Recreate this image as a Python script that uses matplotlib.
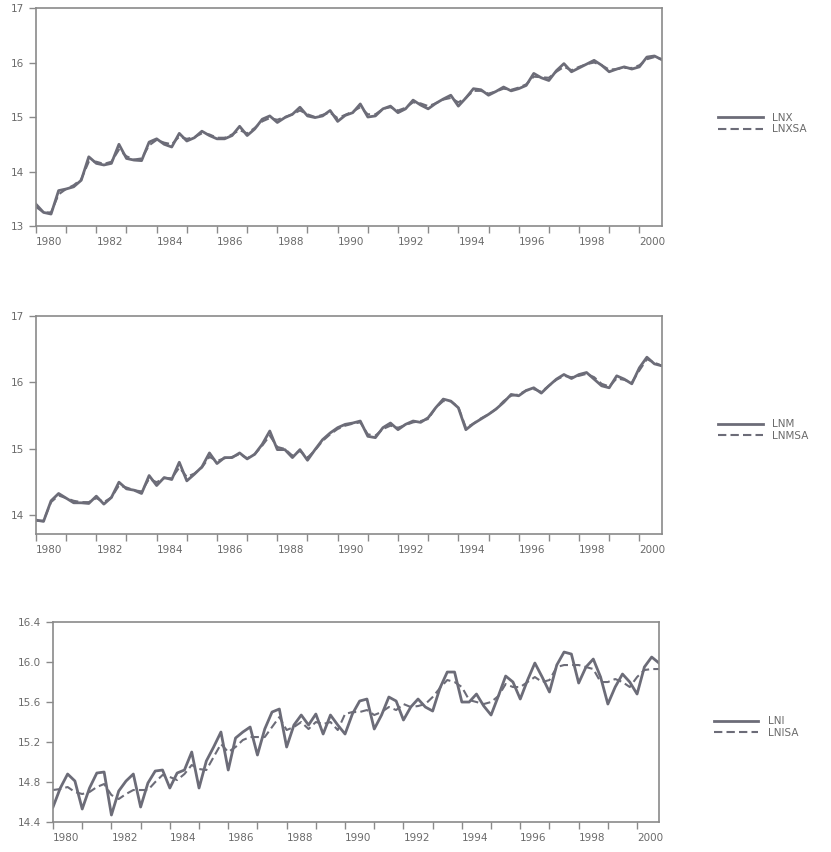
import numpy as np
import matplotlib
matplotlib.use("Agg")
from matplotlib import pyplot as plt
from matplotlib.ticker import FixedLocator, FormatStrFormatter

# quarterly observations 1980Q1 .. 2000Q4
quarters = 1980 + np.arange(84) / 4.0
years = np.arange(1980, 2001)

lnx = [13.40, 13.25, 13.22, 13.65, 13.68, 13.72, 13.84, 14.27, 14.15, 14.12,
       14.15, 14.50, 14.24, 14.21, 14.20, 14.54, 14.60, 14.50, 14.45, 14.70,
       14.56, 14.62, 14.74, 14.66, 14.60, 14.60, 14.66, 14.83, 14.66, 14.78,
       14.96, 15.02, 14.90, 14.99, 15.05, 15.18, 15.02, 14.99, 15.02, 15.12,
       14.92, 15.03, 15.08, 15.24, 15.00, 15.02, 15.15, 15.20, 15.08, 15.15,
       15.31, 15.22, 15.15, 15.25, 15.33, 15.40, 15.20, 15.35, 15.52, 15.50,
       15.40, 15.47, 15.55, 15.48, 15.52, 15.58, 15.80, 15.72, 15.67, 15.85,
       15.98, 15.83, 15.90, 15.97, 16.04, 15.95, 15.83, 15.88, 15.92, 15.88,
       15.92, 16.10, 16.12, 16.05]
lnxsa = [13.35, 13.25, 13.25, 13.58, 13.68, 13.75, 13.86, 14.18, 14.18, 14.14,
         14.18, 14.40, 14.28, 14.22, 14.24, 14.48, 14.58, 14.53, 14.50, 14.64,
         14.60, 14.63, 14.70, 14.68, 14.62, 14.62, 14.68, 14.76, 14.70, 14.80,
         14.92, 14.98, 14.95, 15.00, 15.05, 15.12, 15.05, 15.00, 15.04, 15.08,
         14.98, 15.04, 15.10, 15.18, 15.05, 15.05, 15.15, 15.18, 15.12, 15.17,
         15.27, 15.25, 15.20, 15.25, 15.32, 15.35, 15.27, 15.35, 15.48, 15.48,
         15.43, 15.47, 15.52, 15.50, 15.54, 15.60, 15.74, 15.73, 15.72, 15.83,
         15.92, 15.86, 15.92, 15.97, 16.00, 15.95, 15.87, 15.88, 15.90, 15.90,
         15.95, 16.06, 16.10, 16.06]

lnm = [13.93, 13.91, 14.22, 14.33, 14.26, 14.19, 14.19, 14.18, 14.29, 14.17,
       14.27, 14.50, 14.40, 14.38, 14.33, 14.60, 14.45, 14.57, 14.54, 14.80,
       14.52, 14.62, 14.73, 14.94, 14.78, 14.87, 14.87, 14.94, 14.85, 14.92,
       15.07, 15.27, 14.99, 14.99, 14.87, 14.99, 14.83, 14.99, 15.14, 15.24,
       15.32, 15.37, 15.39, 15.42, 15.19, 15.17, 15.32, 15.39, 15.29, 15.37,
       15.42, 15.40, 15.47, 15.62, 15.75, 15.72, 15.62, 15.29, 15.38, 15.45,
       15.52, 15.60, 15.70, 15.82, 15.80, 15.88, 15.92, 15.84, 15.95, 16.05,
       16.12, 16.06, 16.12, 16.15, 16.05, 15.95, 15.92, 16.10, 16.05, 15.98,
       16.22, 16.38, 16.28, 16.25]
lnmsa = [13.92, 13.92, 14.20, 14.30, 14.26, 14.22, 14.20, 14.20, 14.26, 14.20,
         14.27, 14.45, 14.42, 14.38, 14.36, 14.55, 14.50, 14.56, 14.56, 14.72,
         14.58, 14.63, 14.72, 14.88, 14.82, 14.86, 14.88, 14.92, 14.86, 14.92,
         15.05, 15.20, 15.03, 15.00, 14.90, 14.97, 14.87, 14.98, 15.12, 15.22,
         15.30, 15.35, 15.38, 15.40, 15.22, 15.20, 15.30, 15.35, 15.32, 15.36,
         15.40, 15.42, 15.45, 15.62, 15.72, 15.72, 15.63, 15.32, 15.38, 15.46,
         15.52, 15.60, 15.72, 15.80, 15.82, 15.88, 15.90, 15.86, 15.95, 16.04,
         16.10, 16.08, 16.10, 16.13, 16.08, 15.98, 15.94, 16.06, 16.04, 16.00,
         16.18, 16.35, 16.30, 16.25]

lni = [14.55, 14.74, 14.88, 14.81, 14.53, 14.74, 14.89, 14.90, 14.47, 14.71,
       14.81, 14.88, 14.55, 14.79, 14.91, 14.92, 14.74, 14.89, 14.92, 15.10,
       14.74, 15.01, 15.15, 15.30, 14.92, 15.24, 15.30, 15.35, 15.07, 15.33,
       15.50, 15.53, 15.15, 15.37, 15.47, 15.37, 15.48, 15.28, 15.47, 15.37,
       15.28, 15.48, 15.61, 15.63, 15.33, 15.47, 15.65, 15.61, 15.42, 15.55,
       15.63, 15.55, 15.51, 15.74, 15.90, 15.90, 15.60, 15.60, 15.68, 15.56,
       15.47, 15.66, 15.86, 15.80, 15.63, 15.82, 15.99, 15.85, 15.70, 15.97,
       16.10, 16.08, 15.79, 15.95, 16.03, 15.85, 15.58, 15.75, 15.88, 15.80,
       15.68, 15.95, 16.05, 15.99]
lnisa = [14.72, 14.73, 14.75, 14.70, 14.68, 14.70, 14.75, 14.78, 14.67, 14.63,
         14.68, 14.72, 14.72, 14.72, 14.80, 14.87, 14.85, 14.82, 14.88, 14.97,
         14.93, 14.92, 15.05, 15.18, 15.10, 15.15, 15.22, 15.25, 15.25, 15.25,
         15.35, 15.45, 15.32, 15.35, 15.40, 15.33, 15.40, 15.38, 15.40, 15.32,
         15.48, 15.50, 15.50, 15.52, 15.47, 15.50, 15.55, 15.52, 15.58, 15.55,
         15.56, 15.58, 15.65, 15.74, 15.82, 15.80, 15.75, 15.62, 15.60, 15.58,
         15.60, 15.66, 15.78, 15.75, 15.75, 15.80, 15.85, 15.80, 15.82, 15.95,
         15.97, 15.97, 15.97, 15.95, 15.93, 15.80, 15.80, 15.83, 15.80, 15.75,
         15.85, 15.92, 15.93, 15.93]

line_c = '#6c6c78'
axis_c = '#8a8a8a'
text_c = '#6a6a6a'

fig = plt.figure(figsize=(8.31, 8.52), dpi=100)

panels = [
    ([0.0433, 0.7347, 0.7533, 0.2559], lnx, lnxsa, 'LNX', 'LNXSA', (13, 17), [13, 14, 15, 16, 17], '%d', 0.47),
    ([0.0433, 0.3732, 0.7533, 0.2559], lnm, lnmsa, 'LNM', 'LNMSA', (13.72, 17), [14, 15, 16, 17], '%d', 0.477),
    ([0.0638, 0.0352, 0.7292, 0.2347], lni, lnisa, 'LNI', 'LNISA', (14.4, 16.4), [14.4, 14.8, 15.2, 15.6, 16.0, 16.4], '%.1f', 0.475),
]

for rect, s1, s2, n1, n2, ylim, yt, fmt, ly in panels:
    ax = fig.add_axes(rect)
    ax.plot(quarters, s1, color=line_c, lw=2.0, label=n1)
    ax.plot(quarters, s2, color=line_c, lw=1.5, ls=(0, (4, 2)), label=n2)
    ax.set_xlim(1980, 2000.75)
    ax.set_ylim(*ylim)
    ax.xaxis.set_major_locator(FixedLocator(years))
    ax.set_xticklabels([str(y) if y % 2 == 0 else '' for y in years])
    for lbl in ax.get_xticklabels():
        lbl.set_ha('left')
    ax.yaxis.set_major_locator(FixedLocator(yt))
    ax.yaxis.set_major_formatter(FormatStrFormatter(fmt))
    ax.tick_params(direction='out', length=5, width=1, color=axis_c,
                   labelcolor=text_c, labelsize=7.5)
    ax.tick_params(axis='x', pad=3)
    for sp in ax.spines.values():
        sp.set_color(axis_c)
        sp.set_linewidth(1.2)
    leg = ax.legend(loc='center left', bbox_to_anchor=(1.09, ly), frameon=False,
                    handlelength=4.3, handletextpad=0.9, borderaxespad=0,
                    borderpad=0, labelspacing=0.15, fontsize=7.5)
    for t in leg.get_texts():
        t.set_color(text_c)

fig.savefig('out.png', dpi=100)
